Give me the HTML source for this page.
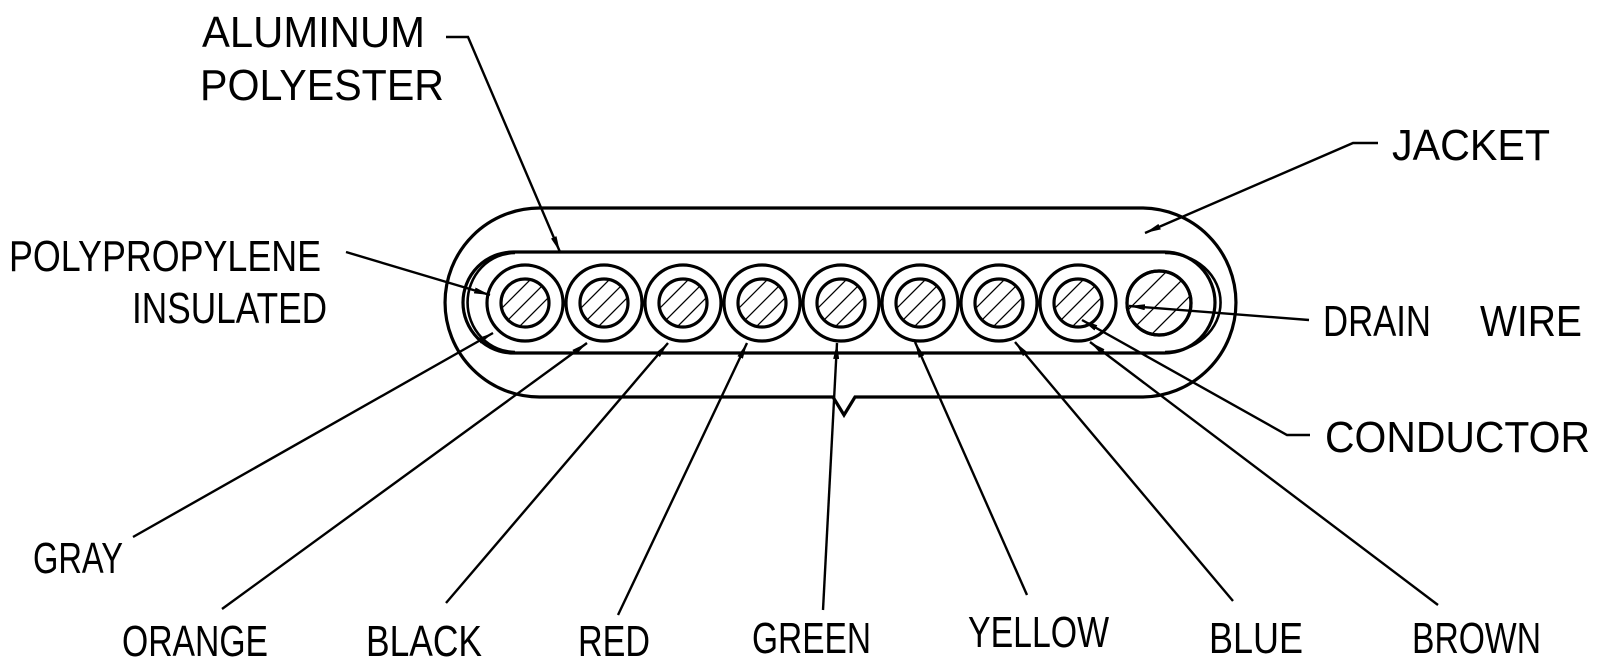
<!DOCTYPE html>
<html><head><meta charset="utf-8"><style>
html,body{margin:0;padding:0;background:#fff;}
svg{display:block;}
text{font-family:"Liberation Sans",sans-serif;font-size:44px;fill:#000;}
</style></head><body>
<svg width="1600" height="664" viewBox="0 0 1600 664" xmlns="http://www.w3.org/2000/svg">
<defs>
<marker id="a" viewBox="0 0 16 6" refX="16" refY="3" markerWidth="16" markerHeight="6" markerUnits="userSpaceOnUse" orient="auto">
<path d="M0,0 L16,3 L0,6 z" fill="#000"/></marker>
<clipPath id="c0"><circle cx="0" cy="0" r="24"/></clipPath>
<clipPath id="cd"><circle cx="0" cy="0" r="32"/></clipPath>
<g id="hatch" stroke="#000" stroke-width="1.3">
<line x1="-40" y1="28" x2="28" y2="-40"/><line x1="-40" y1="40" x2="40" y2="-40"/><line x1="-28" y1="40" x2="40" y2="-28"/>
<line x1="-40" y1="16" x2="16" y2="-40"/><line x1="-16" y1="40" x2="40" y2="-16"/>
</g>
<g id="wire">
<circle r="38" fill="#fff" stroke="#000" stroke-width="3.2"/>
<g clip-path="url(#c0)"><g transform="scale(1)"><line x1="-30" y1="12" x2="12" y2="-30" stroke="#000" stroke-width="1.3"/><line x1="-30" y1="30" x2="30" y2="-30" stroke="#000" stroke-width="1.3"/><line x1="-12" y1="30" x2="30" y2="-12" stroke="#000" stroke-width="1.3"/></g></g>
<circle r="24" fill="none" stroke="#000" stroke-width="3.2"/>
</g>
</defs>
<g fill="none" stroke="#000">
<!-- jacket -->
<path d="M539.5,208 H1141.5 A94.5,94.5 0 0 1 1141.5,397 H855 L844,415 L833,397 H539.5 A94.5,94.5 0 0 1 539.5,208 Z" stroke-width="3.2"/>
<!-- shield -->
<rect x="463" y="252" width="752" height="101" rx="50.5" ry="50.5" stroke-width="3.2"/>
<path d="M515,253 A46,48 0 0 0 515,352" stroke-width="2.6"/>
<path d="M1165,253 A55,49 0 0 1 1165,352" stroke-width="2.6"/>
</g>
<use href="#wire" x="525" y="303"/>
<use href="#wire" x="604" y="303"/>
<use href="#wire" x="683" y="303"/>
<use href="#wire" x="762" y="303"/>
<use href="#wire" x="841" y="303"/>
<use href="#wire" x="920" y="303"/>
<use href="#wire" x="999" y="303"/>
<use href="#wire" x="1078" y="303"/>
<g transform="translate(1159,303)">
<circle r="32" fill="#fff" stroke="#000" stroke-width="3.2"/>
<g clip-path="url(#cd)" stroke="#000" stroke-width="1.3">
<line x1="-40" y1="16" x2="16" y2="-40"/><line x1="-40" y1="40" x2="40" y2="-40"/><line x1="-16" y1="40" x2="40" y2="-16"/>
</g>
<circle r="32" fill="none" stroke="#000" stroke-width="3.2"/>
</g>
<g fill="none" stroke="#000" stroke-width="2.4">
<polyline points="446,37 468,37 560,252" marker-end="url(#a)"/>
<polyline points="1378,143 1353,143 1145,233" marker-end="url(#a)"/>
<line x1="346" y1="252" x2="490" y2="295" marker-end="url(#a)"/>
<line x1="1309" y1="320" x2="1129" y2="306" marker-end="url(#a)"/>
<polyline points="1310,435 1287,435 1082,320" marker-end="url(#a)"/>
<line x1="133" y1="537" x2="493" y2="333" marker-end="url(#a)"/>
<line x1="222" y1="609" x2="587" y2="343" marker-end="url(#a)"/>
<line x1="446" y1="603" x2="668" y2="343" marker-end="url(#a)"/>
<line x1="618" y1="615" x2="747" y2="343" marker-end="url(#a)"/>
<line x1="823" y1="610" x2="837" y2="343" marker-end="url(#a)"/>
<line x1="1027" y1="595" x2="915" y2="342" marker-end="url(#a)"/>
<line x1="1233" y1="601" x2="1015" y2="342" marker-end="url(#a)"/>
<line x1="1438" y1="605" x2="1090" y2="342" marker-end="url(#a)"/>
</g>
<text x="202" y="47" textLength="223" lengthAdjust="spacingAndGlyphs">ALUMINUM</text>
<text x="200" y="100" textLength="244" lengthAdjust="spacingAndGlyphs">POLYESTER</text>
<text x="9" y="271" textLength="312" lengthAdjust="spacingAndGlyphs">POLYPROPYLENE</text>
<text x="132" y="323" textLength="195" lengthAdjust="spacingAndGlyphs">INSULATED</text>
<text x="1392" y="160" textLength="158" lengthAdjust="spacingAndGlyphs">JACKET</text>
<text x="1323" y="336" textLength="108" lengthAdjust="spacingAndGlyphs">DRAIN</text>
<text x="1480" y="336" textLength="102" lengthAdjust="spacingAndGlyphs">WIRE</text>
<text x="1325" y="452" textLength="265" lengthAdjust="spacingAndGlyphs">CONDUCTOR</text>
<text x="33" y="573" textLength="90" lengthAdjust="spacingAndGlyphs">GRAY</text>
<text x="122" y="656" textLength="146" lengthAdjust="spacingAndGlyphs">ORANGE</text>
<text x="366" y="656" textLength="116" lengthAdjust="spacingAndGlyphs">BLACK</text>
<text x="578" y="656" textLength="72" lengthAdjust="spacingAndGlyphs">RED</text>
<text x="752" y="653" textLength="119" lengthAdjust="spacingAndGlyphs">GREEN</text>
<text x="968" y="647" textLength="141" lengthAdjust="spacingAndGlyphs">YELLOW</text>
<text x="1209" y="653" textLength="94" lengthAdjust="spacingAndGlyphs">BLUE</text>
<text x="1412" y="653" textLength="129" lengthAdjust="spacingAndGlyphs">BROWN</text>
</svg>
</body></html>
